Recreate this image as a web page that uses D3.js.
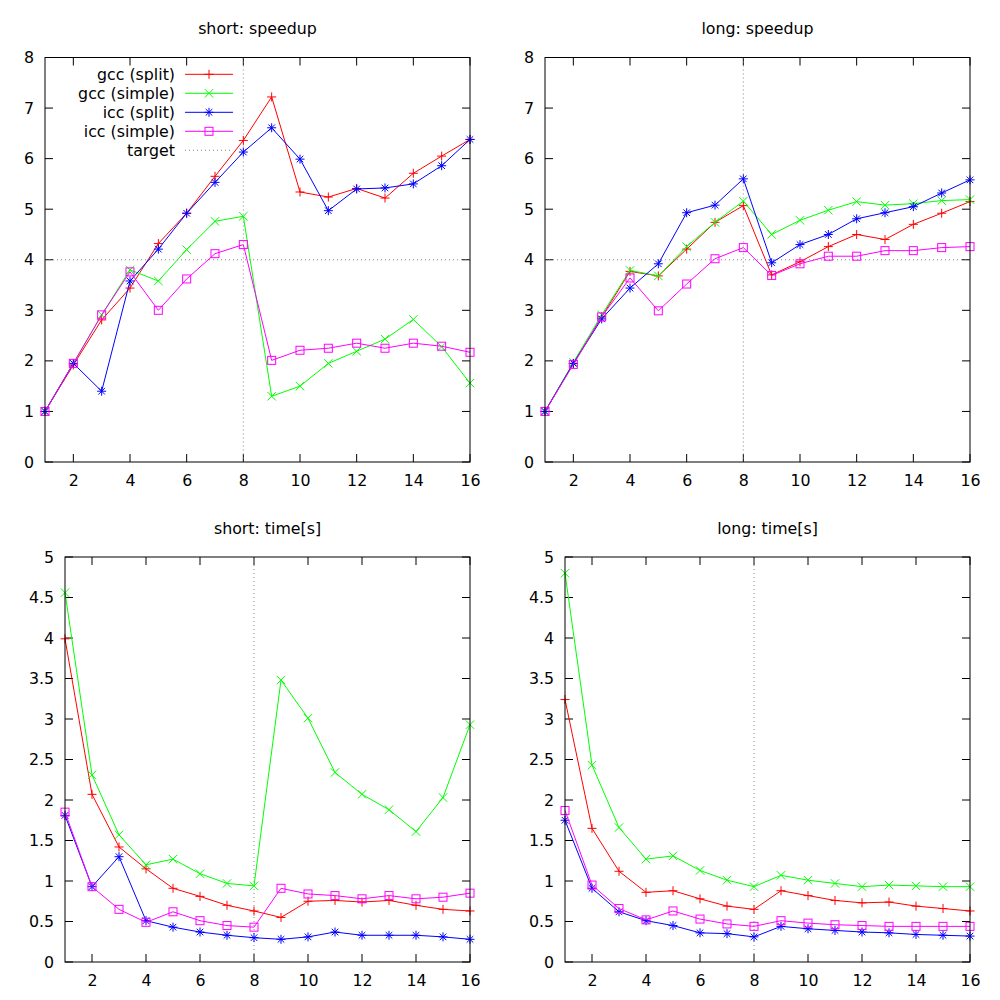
<!DOCTYPE html>
<html><head><meta charset="utf-8">
<script src="https://cdn.jsdelivr.net/npm/d3@7"></script>
<style>body{margin:0;background:#fff}svg{display:block}text{font-family:"DejaVu Sans",sans-serif;fill:#000}</style>
</head><body><svg id="c" width="1000" height="1000"></svg>
<script>
const threads = [1,2,3,4,5,6,7,8,9,10,11,12,13,14,15,16];
const seriesNames = ["gcc (split)","gcc (simple)","icc (split)","icc (simple)"];
const targetLabel = "target";
const titles = ["short: speedup","long: speedup","short: time[s]","long: time[s]"];
const xTicks = [2,4,6,8,10,12,14,16];
const speedupTicks = [0,1,2,3,4,5,6,7,8];
const timeTicks = [0,0.5,1,1.5,2,2.5,3,3.5,4,4.5,5];
const targetThreads = 8;
const targetSpeedup = 4;

const shortSpeedupGccSplit  = [1.0,1.92,2.81,3.44,4.32,4.92,5.65,6.36,7.22,5.34,5.24,5.41,5.22,5.71,6.05,6.38];
const shortSpeedupGccSimple = [1.0,1.95,2.91,3.80,3.58,4.20,4.76,4.86,1.30,1.50,1.95,2.19,2.43,2.82,2.28,1.56];
const shortSpeedupIccSplit  = [1.0,1.95,1.40,3.58,4.21,4.92,5.53,6.13,6.61,5.99,4.97,5.40,5.42,5.50,5.86,6.38];
const shortSpeedupIccSimple = [1.0,1.95,2.91,3.76,3.00,3.62,4.12,4.30,2.01,2.21,2.25,2.35,2.25,2.35,2.29,2.17];

const longSpeedupGccSplit   = [1.0,1.95,2.87,3.77,3.68,4.21,4.74,5.07,3.70,3.96,4.26,4.50,4.40,4.70,4.92,5.15];
const longSpeedupGccSimple  = [1.0,1.97,2.91,3.79,3.68,4.26,4.74,5.16,4.50,4.78,4.98,5.15,5.08,5.11,5.17,5.19];
const longSpeedupIccSplit   = [1.0,1.95,2.83,3.44,3.92,4.93,5.08,5.60,3.94,4.30,4.50,4.81,4.93,5.05,5.32,5.58];
const longSpeedupIccSimple  = [1.0,1.93,2.87,3.64,2.99,3.52,4.02,4.24,3.69,3.92,4.07,4.07,4.18,4.18,4.24,4.26];

const shortTimeGccSplit     = [3.99,2.07,1.42,1.15,0.91,0.81,0.70,0.63,0.55,0.75,0.76,0.74,0.76,0.70,0.65,0.63];
const shortTimeGccSimple    = [4.56,2.31,1.57,1.20,1.27,1.09,0.97,0.94,3.48,3.01,2.34,2.07,1.88,1.61,2.03,2.93];
const shortTimeIccSplit     = [1.81,0.93,1.30,0.51,0.43,0.37,0.33,0.30,0.28,0.31,0.37,0.33,0.33,0.33,0.31,0.28];
const shortTimeIccSimple    = [1.85,0.93,0.65,0.49,0.62,0.51,0.45,0.43,0.91,0.84,0.82,0.78,0.82,0.78,0.80,0.85];

const longTimeGccSplit      = [3.24,1.65,1.12,0.86,0.88,0.78,0.69,0.65,0.88,0.82,0.76,0.73,0.74,0.69,0.66,0.63];
const longTimeGccSimple     = [4.80,2.43,1.66,1.27,1.31,1.13,1.01,0.93,1.07,1.01,0.97,0.93,0.95,0.94,0.93,0.93];
const longTimeIccSplit      = [1.75,0.91,0.62,0.51,0.45,0.36,0.35,0.31,0.44,0.41,0.39,0.37,0.36,0.34,0.33,0.32];
const longTimeIccSimple     = [1.87,0.95,0.66,0.52,0.63,0.53,0.47,0.44,0.51,0.48,0.46,0.45,0.44,0.44,0.44,0.44];

const colors = ["#ff0000","#00ff00","#0000ff","#ff00ff"];
const markers = ["plus","cross","star","square"];
const FS = 15.8;

const panels = [
  {title:titles[0], left:45, right:470, top:57.5, bottom:462, ymax:8, yticks:speedupTicks, fmt:d3.format("d"),
   data:[shortSpeedupGccSplit,shortSpeedupGccSimple,shortSpeedupIccSplit,shortSpeedupIccSimple], hline:true, legend:true},
  {title:titles[1], left:545, right:970, top:57.5, bottom:462, ymax:8, yticks:speedupTicks, fmt:d3.format("d"),
   data:[longSpeedupGccSplit,longSpeedupGccSimple,longSpeedupIccSplit,longSpeedupIccSimple], hline:true},
  {title:titles[2], left:65, right:470, top:557, bottom:962, ymax:5, yticks:timeTicks, fmt:d=>String(d),
   data:[shortTimeGccSplit,shortTimeGccSimple,shortTimeIccSplit,shortTimeIccSimple]},
  {title:titles[3], left:565, right:970, top:557, bottom:962, ymax:5, yticks:timeTicks, fmt:d=>String(d),
   data:[longTimeGccSplit,longTimeGccSimple,longTimeIccSplit,longTimeIccSimple]}
];

const svg = d3.select("#c");

function drawMarker(g, type, x, y, color){
  const s = 4.5;
  if(type==="plus"||type==="star"){
    g.append("line").attr("x1",x-s).attr("x2",x+s).attr("y1",y).attr("y2",y).attr("stroke",color);
    g.append("line").attr("x1",x).attr("x2",x).attr("y1",y-s).attr("y2",y+s).attr("stroke",color);
  }
  if(type==="cross"||type==="star"){
    const c = type==="star"?3.3:4.2;
    g.append("line").attr("x1",x-c).attr("x2",x+c).attr("y1",y-c).attr("y2",y+c).attr("stroke",color);
    g.append("line").attr("x1",x-c).attr("x2",x+c).attr("y1",y+c).attr("y2",y-c).attr("stroke",color);
  }
  if(type==="square"){
    g.append("rect").attr("x",x-4).attr("y",y-4).attr("width",8).attr("height",8).attr("fill","none").attr("stroke",color);
  }
}

panels.forEach(p=>{
  const g = svg.append("g");
  const x = d3.scaleLinear().domain([1,16]).range([p.left,p.right]);
  const y = d3.scaleLinear().domain([0,p.ymax]).range([p.bottom,p.top]);
  const tl = 8;

  g.append("text").attr("x",(p.left+p.right)/2).attr("y",p.top-29)
    .attr("text-anchor","middle").attr("dominant-baseline","central").attr("font-size",FS).text(p.title);

  const xb = g.append("g").attr("transform",`translate(0,${p.bottom})`)
    .call(d3.axisBottom(x).tickValues(xTicks).tickSize(0).tickPadding(13).tickFormat(d3.format("d")));
  const yl = g.append("g").attr("transform",`translate(${p.left},0)`)
    .call(d3.axisLeft(y).tickValues(p.yticks).tickSize(0).tickPadding(11).tickFormat(p.fmt));
  [xb,yl].forEach(a=>{a.select(".domain").remove();
    a.selectAll("text").attr("font-size",FS).attr("font-family","DejaVu Sans, sans-serif").attr("fill","#000");});
  xb.selectAll("text").attr("dy","0.71em");

  xTicks.forEach(t=>{
    g.append("line").attr("x1",x(t)).attr("x2",x(t)).attr("y1",p.bottom).attr("y2",p.bottom-tl).attr("stroke","#000");
    g.append("line").attr("x1",x(t)).attr("x2",x(t)).attr("y1",p.top).attr("y2",p.top+tl).attr("stroke","#000");
  });
  p.yticks.forEach(t=>{
    g.append("line").attr("x1",p.left).attr("x2",p.left+tl).attr("y1",y(t)).attr("y2",y(t)).attr("stroke","#000");
    g.append("line").attr("x1",p.right).attr("x2",p.right-tl).attr("y1",y(t)).attr("y2",y(t)).attr("stroke","#000");
  });

  g.append("line").attr("x1",x(targetThreads)).attr("x2",x(targetThreads)).attr("y1",p.top).attr("y2",p.bottom)
    .attr("stroke","#888").attr("stroke-dasharray","1,3");
  if(p.hline){
    g.append("line").attr("x1",p.left).attr("x2",p.right).attr("y1",y(targetSpeedup)).attr("y2",y(targetSpeedup))
      .attr("stroke","#888").attr("stroke-dasharray","1,3");
  }

  const line = d3.line().x((d,i)=>x(threads[i])).y(d=>y(d));
  p.data.forEach((arr,si)=>{
    g.append("path").datum(arr).attr("d",line).attr("fill","none").attr("stroke",colors[si]).attr("stroke-width",1);
    const mg = g.append("g");
    arr.forEach((v,i)=>drawMarker(mg,markers[si],x(threads[i]),y(v),colors[si]));
  });

  g.append("rect").attr("x",p.left).attr("y",p.top).attr("width",p.right-p.left).attr("height",p.bottom-p.top)
    .attr("fill","none").attr("stroke","#000");

  if(p.legend){
    const lx = 175, l1 = 185, l2 = 233, ly0 = 74.3, dy = 19;
    const lg = g.append("g");
    seriesNames.concat([targetLabel]).forEach((name,i)=>{
      const yy = ly0 + i*dy;
      lg.append("text").attr("x",lx).attr("y",yy).attr("text-anchor","end").attr("dominant-baseline","central")
        .attr("font-size",FS).text(name);
      if(i<4){
        lg.append("line").attr("x1",l1).attr("x2",l2).attr("y1",yy).attr("y2",yy).attr("stroke",colors[i]);
        drawMarker(lg,markers[i],(l1+l2)/2,yy,colors[i]);
      } else {
        lg.append("line").attr("x1",l1).attr("x2",l2).attr("y1",yy).attr("y2",yy).attr("stroke","#888").attr("stroke-dasharray","1,3");
      }
    });
  }
});
</script></body></html>
